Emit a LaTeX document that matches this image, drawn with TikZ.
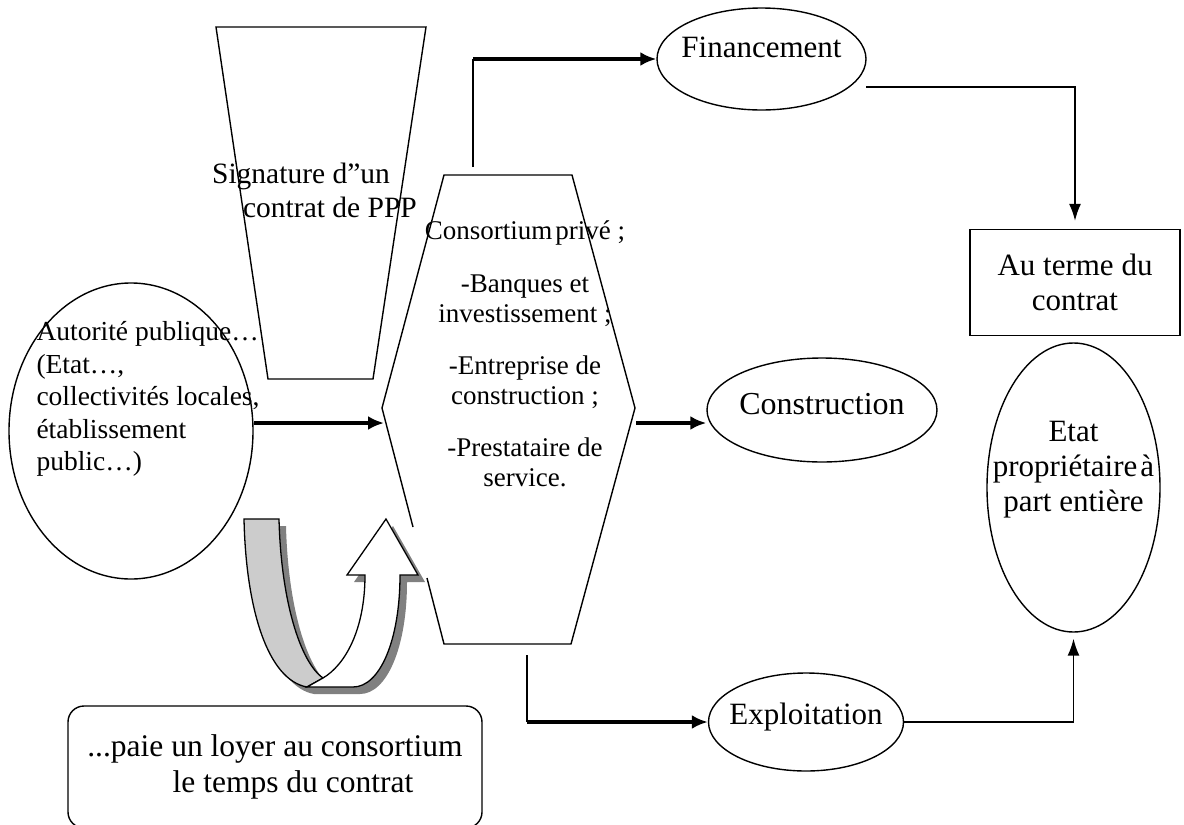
\documentclass[tikz,border=0pt]{standalone}
\usepackage{fontspec}
\setmainfont{Liberation Serif}
\usetikzlibrary{arrows.meta}
\usetikzlibrary{shapes.geometric}
\definecolor{grisclair}{RGB}{204,204,204}
\definecolor{grisombre}{RGB}{128,128,128}

\tikzset{
  forme/.style={draw, line width=1.4pt},
  bulle/.style={ellipse, draw, line width=1.4pt, inner sep=0pt},
  fleche/.style={line width=3.2pt, -{Latex[length=16pt,width=14pt]}},
  trait/.style={line width=1.5pt},
  flechefine/.style={line width=1.5pt, -{Latex[length=17pt,width=12pt]}},
}

\begin{document}
\begin{tikzpicture}[x=1pt,y=-1pt]
  \useasboundingbox (0,0) rectangle (1184,825);
  \def\boucle{(244,519) -- (279,519) .. controls (281,600) and (300,662) .. (323,678) .. controls (345,665) and (365,630) .. (365,575) -- (347,575) -- (386,519) -- (418,575) -- (400,575) .. controls (400,640) and (380,687) .. (353,687) -- (307,687) .. controls (268,680) and (246,610) .. (244,519) -- cycle}

%signature du contrat:
  \draw[forme] (216,27) -- (426,27) -- (373,379) -- (268,379) -- cycle;
  \node[font=\fontsize{29.5}{34}\selectfont, align=center] (signature) at (301,190) {Signature d”un\\\hspace*{58pt}contrat de PPP};

%consortium:
  \coordinate (hexO) at (382,408);
  \coordinate (hexNO) at (444,175);
  \coordinate (hexNE) at (572,175);
  \coordinate (hexE) at (635,408);
  \coordinate (hexSE) at (571,644);
  \coordinate (hexSO) at (444,644);
  \draw[forme] (413,527) -- (hexO) -- (hexNO) -- (hexNE) -- (hexE) -- (hexSE) -- (hexSO) -- (427,578);
  \node[font=\fontsize{27}{30}\selectfont, align=center] (consortium) at (525,354) {Consortium\hspace{3pt}privé ;\\[23pt]-Banques et\\investissement ;\\[22pt]-Entreprise de\\construction ;\\[22pt]-Prestataire de\\service.};

%autorite publique:
  \node[bulle, minimum width=244pt, minimum height=296pt] (autorite) at (131,431) {};
  \node[font=\fontsize{27.5}{32.5}\selectfont, align=left, anchor=west] (autoritetxt) at (33,399) {Autorité publique…\\(Etat…,\\collectivités locales,\\établissement\\public…)};

%loyer:
  \fill[grisombre, shift={(7,7)}] \boucle;
  \filldraw[fill=grisclair, line width=1.3pt] (244,519) -- (279,519) .. controls (281,600) and (300,662) .. (323,678) -- (307,687) .. controls (268,680) and (246,610) .. (244,519) -- cycle;
  \filldraw[fill=white, line width=1.3pt] (307,687) -- (353,687) .. controls (380,687) and (400,640) .. (400,575) -- (418,575) -- (386,519) -- (347,575) -- (365,575) .. controls (365,630) and (345,665) .. (323,678) -- cycle;
  \node[draw, line width=1.4pt, rounded corners=16pt, minimum width=414pt, minimum height=122pt, align=center, font=\fontsize{31.5}{36}\selectfont] (loyer) at (275,767) {...paie un loyer au consortium\\\hspace*{36pt}le temps du contrat};

%missions:
  \node[bulle, minimum width=209pt, minimum height=102pt, text height=21pt, text depth=25pt, font=\fontsize{31}{34}\selectfont] (fin) at (761.5,59) {\makebox[0pt]{Financement}};
  \node[bulle, minimum width=230pt, minimum height=104pt, text height=22pt, text depth=14pt, font=\fontsize{32}{34}\selectfont] (constr) at (822,410) {\makebox[0pt]{Construction}};
  \node[bulle, minimum width=195pt, minimum height=98pt, text height=21pt, text depth=16pt, font=\fontsize{31}{34}\selectfont] (expl) at (806,722) {\makebox[0pt]{Exploitation}};

%fin du contrat:
  \node[forme, minimum width=210pt, minimum height=106pt, align=center, font=\fontsize{31}{35}\selectfont] (terme) at (1075,282.5) {Au terme du\\contrat};
  \node[bulle, minimum width=173pt, minimum height=289pt] (etat) at (1073.5,487.5) {};
  \node[align=center, font=\fontsize{31}{35}\selectfont] (etattxt) at ([yshift=18pt]etat.center) {Etat\\propriétaire\hspace{3pt}à\\part entière};

%fleches:
  \coordinate (entree) at (384,423);
  \coordinate (depF) at (473,167);
  \coordinate (depC) at (636,423);
  \coordinate (depE) at (527,655);
  \coordinate (sortieFin) at (866,87);
  \draw[fleche] (autorite.east |- entree) -- (entree);
  \draw[trait] (depF) -- (depF |- fin.west);
  \draw[fleche] (depF |- fin.west) -- (fin.west);
  \draw[fleche] (depC) -- (constr.west |- depC);
  \draw[trait] (depE) -- (depE |- expl.west);
  \draw[fleche] (depE |- expl.west) -- (expl.west);
  \draw[flechefine, shorten >=8pt] (sortieFin) -| (terme.north);
  \draw[flechefine, shorten >=6pt] (expl.east) -| (etat.south);

\end{tikzpicture}
\end{document}
